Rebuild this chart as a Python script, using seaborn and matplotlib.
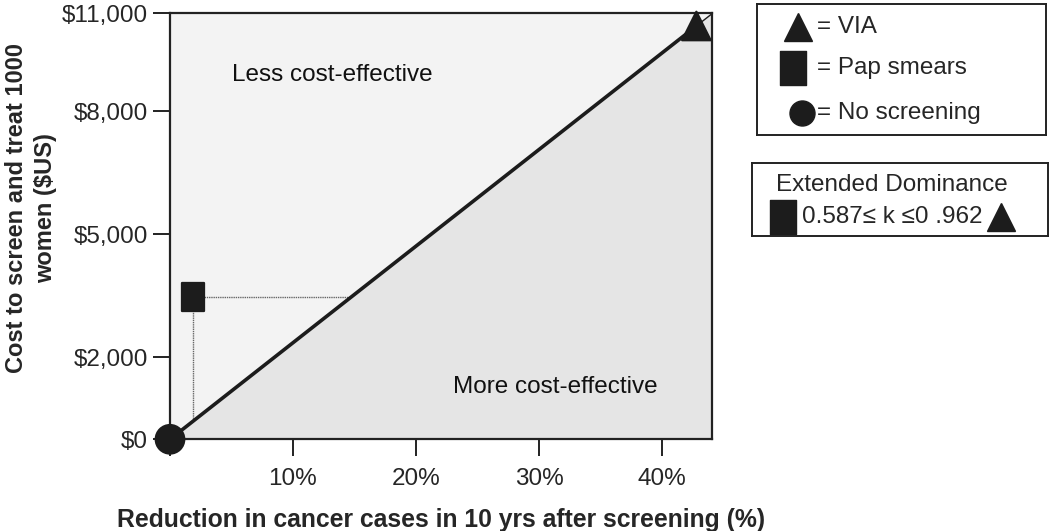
import numpy as np
import pandas as pd
import matplotlib
matplotlib.use("Agg")
import matplotlib.pyplot as plt
import seaborn as sns
from matplotlib.path import Path

# data
strategies = ["No screening", "Pap smears", "VIA"]
reduction_pct = [0.0, 1.85, 42.8]        # % reduction in cancer cases
cost_usd = [0.0, 3470.0, 10080.0]        # cost to screen and treat 1000 women

x_max = 44.07
y_max = 10390.0
x_ticks = [0, 10, 20, 30, 40]
x_ticklabels = ["", "10%", "20%", "30%", "40%"]
y_ticks = [0, 2000, 5000, 8000, y_max]
y_ticklabels = ["$0", "$2,000", "$5,000", "$8,000", "$11,000"]

k_text = "0.587\u2264 k \u22640 .962"

sns.set_style("white")
plt.rcParams["font.family"] = ["Liberation Sans", "DejaVu Sans"]

dark = "#1c1c1c"
tall_square = Path([(-0.38, -0.5), (0.38, -0.5), (0.38, 0.5), (-0.38, 0.5), (-0.38, -0.5)],
                   [Path.MOVETO, Path.LINETO, Path.LINETO, Path.LINETO, Path.CLOSEPOLY])
marker_map = {"No screening": "o", "Pap smears": tall_square, "VIA": "^"}

df = pd.DataFrame({"strategy": strategies, "reduction": reduction_pct, "cost": cost_usd})

fig = plt.figure(figsize=(10.5, 5.31), dpi=100)
ax = fig.add_axes([0.1619, 0.1727, 0.5162, 0.8023])

# frontier through no screening and VIA, extended to the plot edge
slope = cost_usd[2] / reduction_pct[2]
xs = np.array([0.0, x_max])
ax.fill_between(xs, slope * xs, y_max, color="#f3f3f3", zorder=0)
ax.fill_between(xs, 0, slope * xs, color="#e5e5e5", zorder=0)
ax.plot([reduction_pct[2], x_max], [cost_usd[2], slope * x_max], color=dark, lw=1.0, zorder=2)
sns.lineplot(x=[reduction_pct[0], reduction_pct[2]], y=[cost_usd[0], cost_usd[2]],
             color=dark, lw=2.6, ax=ax, zorder=3)

# dotted guides from pap smears to the frontier
px, py = reduction_pct[1], cost_usd[1]
ax.plot([px, py / slope], [py, py], color="#666666", lw=1.0, ls=(0, (1, 0.6)), zorder=2)
ax.plot([px, px], [py, slope * px], color="#666666", lw=1.0, ls=(0, (1, 0.6)), zorder=2)

sns.scatterplot(data=df, x="reduction", y="cost", style="strategy", markers=marker_map,
                color=dark, edgecolor=dark, s=420, legend=False, ax=ax, zorder=5, clip_on=False)

ax.set_xlim(0, x_max)
ax.set_ylim(0, y_max)
ax.set_xticks(x_ticks)
ax.set_xticklabels(x_ticklabels)
ax.set_yticks(y_ticks)
ax.set_yticklabels(y_ticklabels)
ax.tick_params(axis="both", direction="out", length=12, width=1.4, color="#222222",
               labelsize=17.5, bottom=True, left=True)
ax.tick_params(axis="x", pad=9)
ax.tick_params(axis="y", pad=4)
for sp in ax.spines.values():
    sp.set_color("#222222")
    sp.set_linewidth(1.6)

ax.set_xlabel("Reduction in cancer cases in 10 yrs after screening (%)",
              fontsize=17.8, fontweight="bold")
ax.xaxis.set_label_coords(0.5009, -0.189)
ax.xaxis.label.set_va("center")
ax.set_ylabel("Cost to screen and treat 1000\nwomen ($US)", fontsize=17, fontweight="bold",
              linespacing=1.3)
ax.yaxis.set_label_coords(-0.2565, 0.543)
ax.yaxis.label.set_va("center")

ax.text(0.114, 0.855, "Less cost-effective", transform=ax.transAxes, fontsize=17.5,
        ha="left", va="center", color="#111111")
ax.text(0.522, 0.123, "More cost-effective", transform=ax.transAxes, fontsize=17.5,
        ha="left", va="center", color="#111111")

# legend boxes
def box(rect):
    b = fig.add_axes(rect)
    b.set_xlim(0, 1)
    b.set_ylim(0, 1)
    b.set_xticks([])
    b.set_yticks([])
    for sp in b.spines.values():
        sp.set_color("#222222")
        sp.set_linewidth(1.4)
    return b

lg = box([0.721, 0.7458, 0.2752, 0.2467])
lg.plot(0.142, 0.824, marker="^", ms=20, color=dark)
lg.plot(0.125, 0.511, marker=tall_square, ms=24, color=dark)
lg.plot(0.156, 0.168, marker="o", ms=18, color=dark)
for yy, name in zip([0.824, 0.511, 0.168], ["VIA", "Pap smears", "No screening"]):
    lg.text(0.208, yy, "= " + name, fontsize=17.5, ha="left", va="center")

kd = box([0.716, 0.5556, 0.2825, 0.1375])
kd.text(0.473, 0.70, "Extended Dominance", fontsize=17.5, ha="center", va="center")
kd.plot(0.104, 0.26, marker=tall_square, ms=24, color=dark)
kd.text(0.168, 0.26, k_text, fontsize=17.5, ha="left", va="center")
kd.plot(0.84, 0.26, marker="^", ms=20, color=dark)

fig.savefig("out.png", dpi=100)
